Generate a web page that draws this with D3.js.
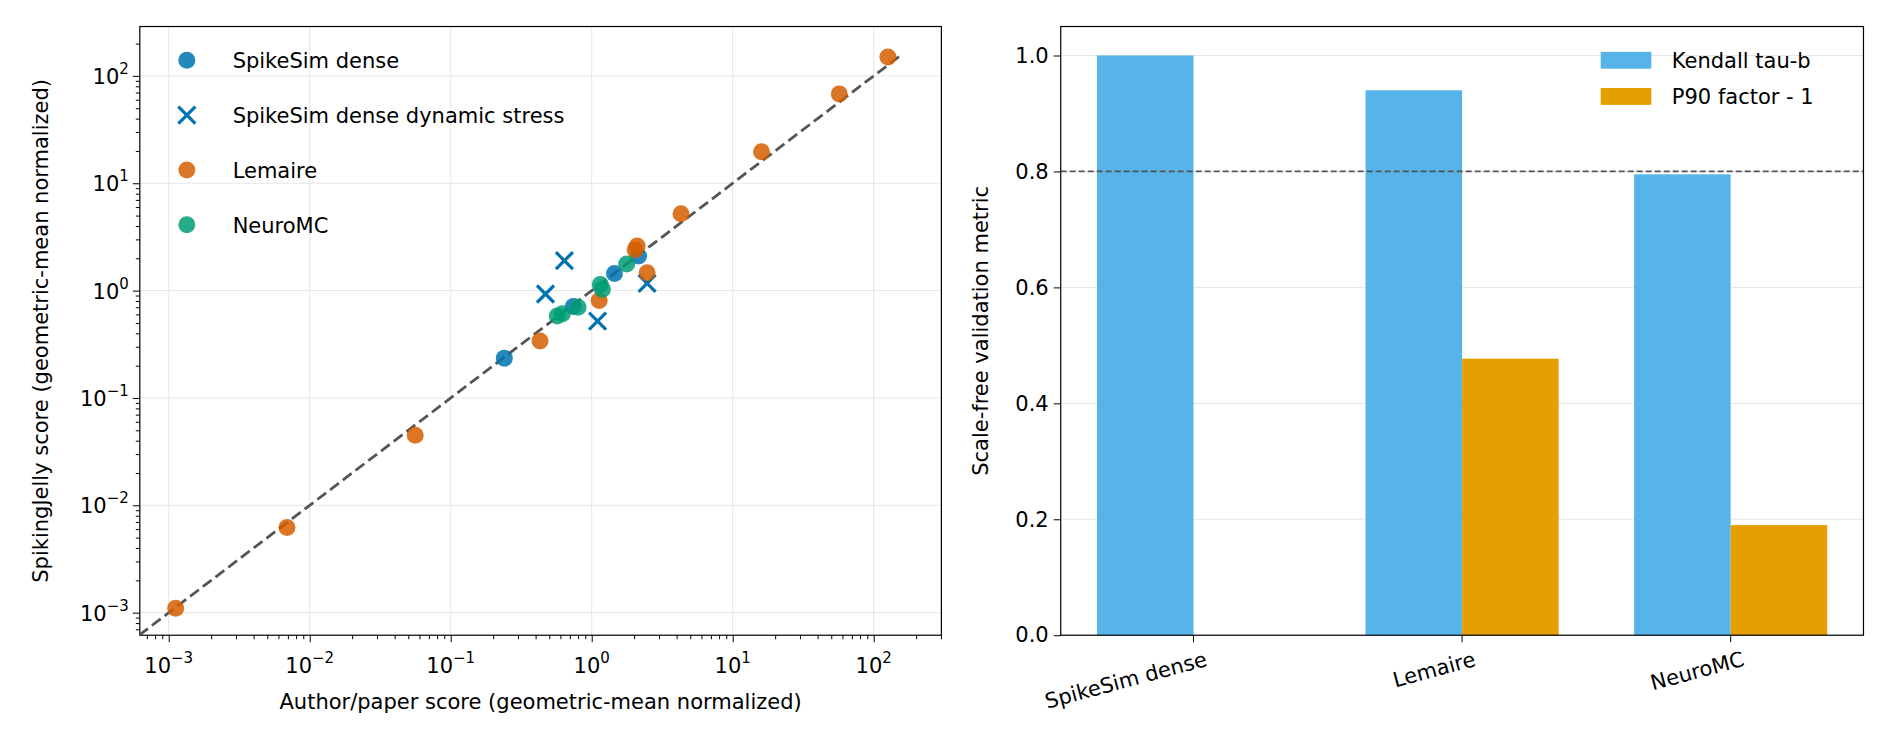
<!DOCTYPE html><html><head><meta charset="utf-8">
<script src="https://cdn.jsdelivr.net/npm/d3@7"></script>
<style>body{margin:0;background:#fff}text{font-family:"DejaVu Sans",sans-serif;fill:#000}</style></head><body>
<svg id="c" width="1890" height="756"></svg>
<script>
const spikeDense=[[0.24,0.235],[0.74,0.71],[1.45,1.44],[2.15,2.1]];
const dynStress=[[0.47,0.93],[0.64,1.9],[1.1,0.52],[2.47,1.17]];
const lemaire=[[0.00112,0.0011],[0.0069,0.0062],[0.056,0.045],[0.43,0.34],[1.13,0.81],[2.03,2.4],[2.1,2.6],[2.47,1.47],[4.3,5.2],[16,19.7],[57,68],[126,150]];
const neuro=[[0.57,0.58],[0.62,0.61],[0.8,0.7],[1.15,1.14],[1.19,1.03],[1.77,1.77]];
const cats=["SpikeSim dense","Lemaire","NeuroMC"];
const kendall=[1.0,0.94,0.795];
const p90=[null,0.477,0.19];
const yTicksR=[0,0.2,0.4,0.6,0.8,1.0];
const logTicks=[1e-3,1e-2,1e-1,1,10,100];
const supers=["−3","−2","−1","0","1","2"];

const svg=d3.select("#c");
const S=1890/1568;
const fs=21;
const L={x0:116*S,x1:781*S,y0:22*S,y1:527*S};
const x=d3.scaleLog().domain([Math.pow(10,-3.205),Math.pow(10,2.48)]).range([L.x0,L.x1]);
const y=d3.scaleLog().domain([Math.pow(10,-3.21),Math.pow(10,2.46)]).range([L.y1,L.y0]);
const g=svg.append("g");
g.append("g").selectAll("line").data(logTicks).join("line").attr("x1",d=>x(d)).attr("x2",d=>x(d)).attr("y1",L.y0).attr("y2",L.y1).attr("stroke","#e6e6e6");
g.append("g").selectAll("line").data(logTicks).join("line").attr("y1",d=>y(d)).attr("y2",d=>y(d)).attr("x1",L.x0).attr("x2",L.x1).attr("stroke","#e6e6e6");
const xa=g.append("g").attr("transform",`translate(0,${L.y1})`).call(d3.axisBottom(x).tickValues(logTicks).tickFormat("").tickSize(7));
const xm=g.append("g").attr("transform",`translate(0,${L.y1})`).call(d3.axisBottom(x).tickValues(x.ticks().filter(t=>!logTicks.includes(t))).tickFormat("").tickSize(4));
const ya=g.append("g").attr("transform",`translate(${L.x0},0)`).call(d3.axisLeft(y).tickValues(logTicks).tickFormat("").tickSize(7));
const ym=g.append("g").attr("transform",`translate(${L.x0},0)`).call(d3.axisLeft(y).tickValues(y.ticks().filter(t=>!logTicks.includes(t))).tickFormat("").tickSize(4));
[xa,xm,ya,ym].forEach(a=>a.select(".domain").remove());
logTicks.forEach((t,i)=>{
  const tx=g.append("text").attr("x",x(t)).attr("y",L.y1+38).attr("text-anchor","middle").attr("font-size",fs);
  tx.append("tspan").text("10");tx.append("tspan").attr("dy",-10).attr("font-size",15).text(supers[i]);
  const ty=g.append("text").attr("x",L.x0-11).attr("y",y(t)+8).attr("text-anchor","end").attr("font-size",fs);
  ty.append("tspan").text("10");ty.append("tspan").attr("dy",-10).attr("font-size",15).text(supers[i]);
});
g.append("rect").attr("x",L.x0).attr("y",L.y0).attr("width",L.x1-L.x0).attr("height",L.y1-L.y0).attr("fill","none").attr("stroke","#000").attr("stroke-width",1.2);
g.append("text").attr("x",(L.x0+L.x1)/2).attr("y",588*S).attr("text-anchor","middle").attr("font-size",fs).text("Author/paper score (geometric-mean normalized)");
g.append("text").attr("transform",`translate(${40*S},${(L.y0+L.y1)/2}) rotate(-90)`).attr("text-anchor","middle").attr("font-size",fs).text("SpikingJelly score (geometric-mean normalized)");
g.append("clipPath").attr("id","cl").append("rect").attr("x",L.x0).attr("y",L.y0).attr("width",L.x1-L.x0).attr("height",L.y1-L.y0);
const diag=[Math.pow(10,-3.3),160];
g.append("line").attr("clip-path","url(#cl)").attr("x1",x(diag[0])).attr("y1",y(diag[0])).attr("x2",x(diag[1])).attr("y2",y(diag[1])).attr("stroke","#555").attr("stroke-width",2.8).attr("stroke-dasharray","11,5");
const R=8.5, XS=8.5;
function dots(data,col){g.append("g").selectAll("circle").data(data).join("circle").attr("cx",d=>x(d[0])).attr("cy",d=>y(d[1])).attr("r",R).attr("fill",col).attr("fill-opacity",0.85);}
dots(spikeDense,"#0072B2");
g.append("g").selectAll("path").data(dynStress).join("path").attr("d",d=>{const cx=x(d[0]),cy=y(d[1]),s=XS;return `M${cx-s},${cy-s}L${cx+s},${cy+s}M${cx-s},${cy+s}L${cx+s},${cy-s}`}).attr("stroke","#0072B2").attr("stroke-width",3.2);
dots(lemaire,"#D55E00");
dots(neuro,"#009E73");
const leg=[["SpikeSim dense","#0072B2","c"],["SpikeSim dense dynamic stress","#0072B2","x"],["Lemaire","#D55E00","c"],["NeuroMC","#009E73","c"]];
leg.forEach((l,i)=>{const ly=(50+i*45.5)*S,lx=155*S;
  if(l[2]=="c")g.append("circle").attr("cx",lx).attr("cy",ly).attr("r",R).attr("fill",l[1]).attr("fill-opacity",0.85);
  else g.append("path").attr("d",`M${lx-XS},${ly-XS}L${lx+XS},${ly+XS}M${lx-XS},${ly+XS}L${lx+XS},${ly-XS}`).attr("stroke",l[1]).attr("stroke-width",3.2);
  g.append("text").attr("x",193*S).attr("y",ly+8).attr("font-size",fs).text(l[0]);});
const Rr={x0:880*S,x1:1546*S,y0:22*S,y1:527*S};
const xb=d3.scaleBand().domain(cats).range([Rr.x0,Rr.x1]).paddingInner(0.281).paddingOuter(0.135);
const yb=d3.scaleLinear().domain([0,1.05]).range([Rr.y1,Rr.y0]);
const h=svg.append("g");
h.append("g").selectAll("line").data(yTicksR).join("line").attr("x1",Rr.x0).attr("x2",Rr.x1).attr("y1",d=>yb(d)).attr("y2",d=>yb(d)).attr("stroke","#e6e6e6");
const bw=xb.bandwidth()/2;
h.append("g").selectAll("rect").data(cats).join("rect").attr("x",d=>xb(d)).attr("width",bw).attr("y",(d,i)=>yb(kendall[i])).attr("height",(d,i)=>yb(0)-yb(kendall[i])).attr("fill","#56B4E9");
h.append("g").selectAll("rect").data(cats.filter((d,i)=>p90[i]!=null)).join("rect").attr("x",d=>xb(d)+bw).attr("width",bw).attr("y",d=>yb(p90[cats.indexOf(d)])).attr("height",d=>yb(0)-yb(p90[cats.indexOf(d)])).attr("fill","#E69F00");
h.append("line").attr("x1",Rr.x0).attr("x2",Rr.x1).attr("y1",yb(0.8)).attr("y2",yb(0.8)).attr("stroke","#555").attr("stroke-width",1.8).attr("stroke-dasharray","6,3");
const ay=h.append("g").attr("transform",`translate(${Rr.x0},0)`).call(d3.axisLeft(yb).tickValues(yTicksR).tickFormat(d3.format(".1f")).tickSize(7).tickPadding(5));
ay.selectAll("text").attr("font-size",fs).attr("font-family","DejaVu Sans");ay.select(".domain").remove();
const ax=h.append("g").attr("transform",`translate(0,${Rr.y1})`).call(d3.axisBottom(xb).tickSize(7));
ax.select(".domain").remove();
ax.selectAll(".tick").attr("transform",d=>`translate(${xb(d)+bw},0)`);
ax.selectAll("text").attr("font-size",fs).attr("font-family","DejaVu Sans").attr("text-anchor","end").attr("transform","rotate(-15)").attr("dy","1.1em").attr("dx","0.3em");
h.append("rect").attr("x",Rr.x0).attr("y",Rr.y0).attr("width",Rr.x1-Rr.x0).attr("height",Rr.y1-Rr.y0).attr("fill","none").attr("stroke","#000").attr("stroke-width",1.2);
h.append("text").attr("transform",`translate(${820*S},${(Rr.y0+Rr.y1)/2}) rotate(-90)`).attr("text-anchor","middle").attr("font-size",fs).text("Scale-free validation metric");
[["Kendall tau-b","#56B4E9"],["P90 factor - 1","#E69F00"]].forEach((l,i)=>{const ly=(50+i*30)*S;
 h.append("rect").attr("x",1328*S).attr("y",ly-7*S).attr("width",42*S).attr("height",14*S).attr("fill",l[1]);
 h.append("text").attr("x",1387*S).attr("y",ly+8).attr("font-size",fs).text(l[0]);});
</script></body></html>
